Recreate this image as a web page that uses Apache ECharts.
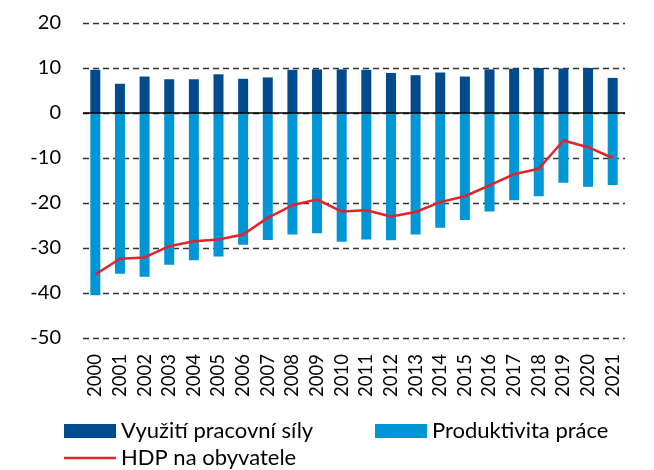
<!DOCTYPE html>
<html>
<head>
<meta charset="utf-8">
<script src="https://cdn.jsdelivr.net/npm/echarts@6/dist/echarts.min.js"></script>
<style>
  html, body { margin: 0; padding: 0; background: #fff; }
  #chart { width: 654px; height: 470px; }
</style>
</head>
<body>
<div id="chart"></div>
<script>
var years = ['2000', '2001', '2002', '2003', '2004', '2005', '2006', '2007', '2008', '2009', '2010',
  '2011', '2012', '2013', '2014', '2015', '2016', '2017', '2018', '2019', '2020', '2021'];
// Využití pracovní síly
var labourUse = [9.6, 6.5, 8.1, 7.5, 7.5, 8.6, 7.6, 7.9, 9.6, 9.7, 9.7,
  9.6, 8.9, 8.4, 9.0, 8.1, 9.7, 9.85, 10.0, 9.9, 10.0, 7.8];
// Produktivita práce
var productivity = [-40.5, -35.7, -36.4, -33.7, -32.7, -31.9, -29.3, -28.2, -27.0, -26.7, -28.6,
  -28.1, -28.3, -27.0, -25.5, -23.8, -21.9, -19.4, -18.5, -15.5, -16.4, -16.0];
// HDP na obyvatele
var gdpPerCapita = [-35.9, -32.4, -32.1, -29.6, -28.5, -28.1, -27.0, -23.3, -20.5, -19.2, -21.9,
  -21.6, -23.0, -22.0, -19.8, -18.5, -16.1, -13.6, -12.4, -6.1, -7.6, -10.0];

var names = ['Využití pracovní síly', 'Produktivita práce', 'HDP na obyvatele'];
var font = 'Lato, "Open Sans", sans-serif';
var legendText = { fontSize: 22, color: '#000', fontFamily: font, lineHeight: 22 };

var chart = echarts.init(document.getElementById('chart'));
var option = {
  animation: false,
  textStyle: { fontFamily: font },
  grid: { left: 83, right: 29, top: 23, bottom: 132 },
  legend: [{
    data: [{ name: names[0], icon: 'rect' }],
    left: 64, top: 420,
    padding: 0,
    itemWidth: 52, itemHeight: 14,
    textStyle: legendText
  }, {
    data: [{ name: names[1], icon: 'rect' }],
    left: 375, top: 420,
    padding: 0,
    itemWidth: 52, itemHeight: 14,
    textStyle: legendText
  }, {
    data: [{ name: names[2], icon: 'rect', itemStyle: { color: '#e3232b' } }],
    left: 64, top: 447,
    padding: 0,
    itemWidth: 52, itemHeight: 2.5,
    textStyle: legendText
  }],
  xAxis: {
    type: 'category',
    data: years,
    axisLine: { show: false },
    axisTick: { show: false },
    axisLabel: {
      rotate: 90,
      interval: 0,
      fontSize: 18.5,
      color: '#000',
      fontFamily: font,
      margin: 16
    }
  },
  yAxis: {
    type: 'value',
    min: -50, max: 20, interval: 10,
    axisLine: { show: false },
    axisTick: { show: false },
    axisLabel: { fontSize: 20, color: '#000', fontFamily: font, margin: 22 },
    splitLine: {
      lineStyle: { color: '#333', type: [6, 4], width: 1.4 }
    }
  },
  series: [{
    name: names[0],
    type: 'bar',
    stack: 'total',
    barWidth: 10,
    data: labourUse,
    itemStyle: { color: '#004b8d' },
    markLine: {
      silent: true,
      symbol: 'none',
      label: { show: false },
      lineStyle: { color: '#000', type: 'solid', width: 1.5 },
      data: [{ yAxis: 0 }]
    }
  }, {
    name: names[1],
    type: 'bar',
    stack: 'total',
    barWidth: 10,
    data: productivity,
    itemStyle: { color: '#0096d6' }
  }, {
    name: names[2],
    type: 'line',
    data: gdpPerCapita,
    symbol: 'none',
    lineStyle: { color: '#e3232b', width: 2.5 },
    itemStyle: { color: '#e3232b' },
    z: 5
  }]
};
chart.setOption(option);
</script>
</body>
</html>
